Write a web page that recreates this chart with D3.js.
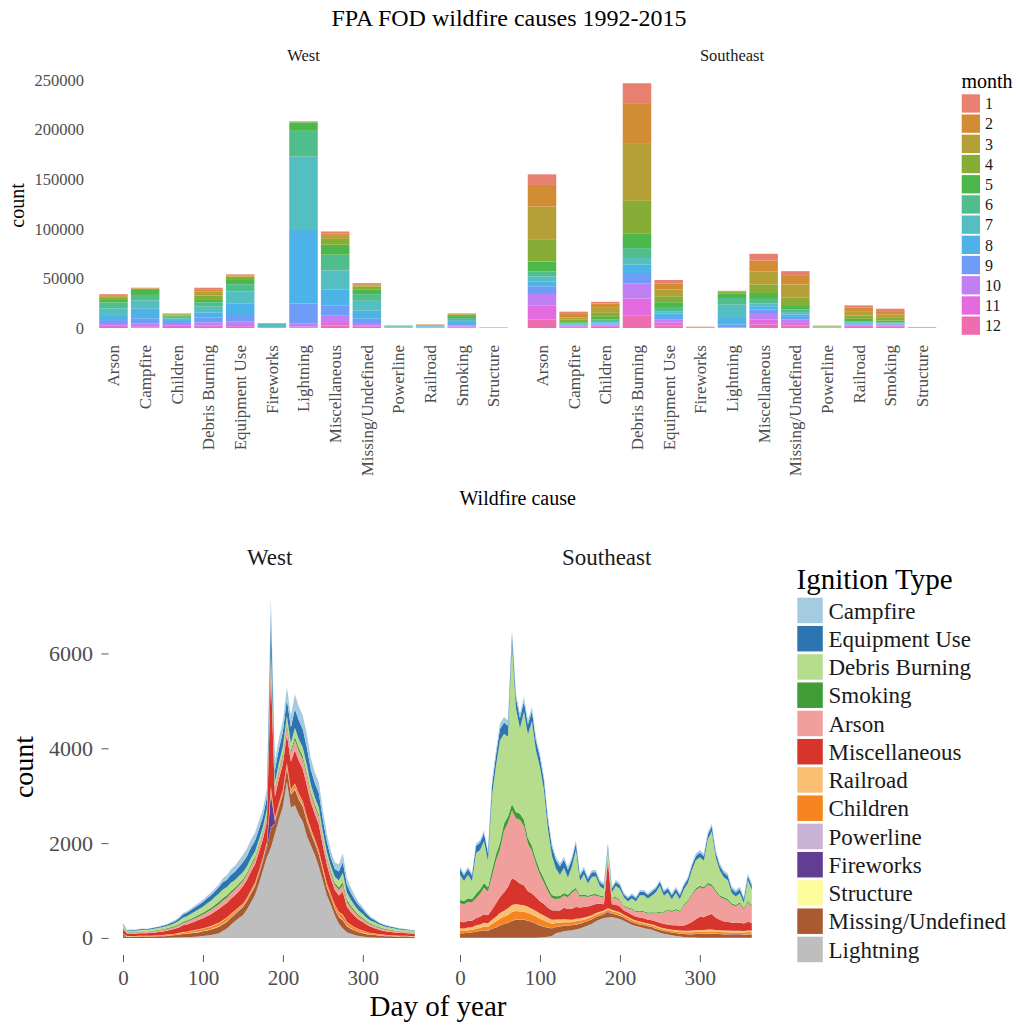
<!DOCTYPE html>
<html>
<head>
<meta charset="utf-8">
<script src="https://cdn.jsdelivr.net/npm/d3@7"></script>
<style>
  body { margin: 0; background: #fff; }
  svg { display: block; font-family: "Liberation Serif", "Times New Roman", serif; }
</style>
</head>
<body>
<svg id="chart" width="1019" height="1027"></svg>
<script>
// ---------- Top chart: yearly counts by cause, stacked by month ----------
const causes = ["Arson", "Campfire", "Children", "Debris Burning", "Equipment Use", "Fireworks",
  "Lightning", "Miscellaneous", "Missing/Undefined", "Powerline", "Railroad", "Smoking", "Structure"];
const months = [1, 2, 3, 4, 5, 6, 7, 8, 9, 10, 11, 12];
const monthColors = ["#e8806f", "#d28c34", "#b4a036", "#88ad37", "#4cb84c", "#50bd8c",
  "#55bec3", "#4cb2e8", "#6d9df7", "#c07ff2", "#e46ae0", "#ee6cb0"];
const countTicks = [0, 50000, 100000, 150000, 200000, 250000];

// one row per cause (same order as `causes`), twelve monthly counts each
const westMonthCounts = [
  [1000, 1000, 1000, 2000, 3400, 6000, 6700, 5000, 4000, 1800, 1200, 1000],
  [400, 400, 500, 1000, 5000, 5700, 8200, 9600, 5000, 3000, 1200, 600],
  [300, 300, 500, 1200, 1100, 1600, 1800, 2000, 2000, 1800, 1200, 1000],
  [1500, 2500, 4000, 3500, 3200, 4400, 5700, 5400, 4700, 3000, 1600, 1100],
  [600, 700, 1100, 2500, 5200, 7400, 11800, 11800, 6700, 3400, 1800, 1200],
  [200, 20, 20, 30, 60, 600, 3800, 150, 40, 30, 20, 30],
  [100, 100, 300, 800, 8400, 26000, 74000, 74000, 20000, 3500, 1000, 300],
  [2000, 2400, 3000, 6000, 10000, 15800, 19500, 15800, 10400, 6400, 3500, 2500],
  [1000, 1100, 1300, 2800, 4900, 6700, 10000, 8000, 4400, 2200, 1500, 1300],
  [100, 100, 120, 180, 250, 350, 450, 450, 300, 200, 120, 80],
  [200, 200, 250, 300, 350, 350, 400, 450, 400, 350, 250, 200],
  [500, 500, 700, 1100, 2000, 2000, 2000, 2000, 1400, 1200, 800, 600],
  [40, 40, 50, 50, 60, 70, 90, 90, 70, 60, 40, 40]
];
const southeastMonthCounts = [
  [10700, 21800, 32900, 22500, 10000, 5000, 5000, 5000, 7700, 11800, 14100, 8400],
  [1500, 4200, 2500, 2200, 900, 600, 500, 800, 900, 800, 800, 800],
  [1700, 4400, 4400, 4700, 2700, 1400, 1300, 1200, 1200, 1100, 1100, 1200],
  [20800, 40300, 57400, 33300, 14400, 10000, 6700, 9400, 9700, 15100, 16800, 12800],
  [3700, 6000, 6700, 6000, 5700, 3400, 2400, 3400, 2700, 2700, 3000, 2700],
  [300, 30, 40, 30, 40, 100, 500, 30, 20, 30, 30, 200],
  [100, 200, 300, 2000, 4700, 6700, 13400, 6700, 2400, 500, 300, 200],
  [6700, 11000, 13400, 8400, 6000, 4700, 2700, 3400, 3400, 6700, 5000, 3400],
  [4000, 9400, 13400, 7400, 4400, 2700, 2400, 2400, 2700, 3400, 2700, 2400],
  [150, 200, 250, 250, 200, 200, 250, 250, 200, 150, 150, 150],
  [2400, 3400, 4400, 3400, 2400, 900, 800, 800, 900, 1100, 1100, 1200],
  [2400, 3400, 3400, 2700, 1700, 600, 600, 600, 600, 1000, 1000, 1400],
  [100, 80, 100, 80, 80, 80, 90, 90, 80, 80, 80, 90]
];

// ---------- Bottom chart: daily counts by ignition type ----------
const ignitionTypes = ["Campfire", "Equipment Use", "Debris Burning", "Smoking", "Arson", "Miscellaneous",
  "Railroad", "Children", "Powerline", "Fireworks", "Structure", "Missing/Undefined", "Lightning"];
const ignitionColors = ["#a6cbe1", "#2c75b1", "#b6dc8e", "#3f9c36", "#f19f9c", "#d7352b",
  "#f9bf72", "#f6851f", "#c8b3d5", "#623d94", "#fdfd9e", "#a95a30", "#bebebe"];
const dayTicks = [0, 100, 200, 300];
const dailyTicks = [0, 2000, 4000, 6000];

const sampleDays = [0, 5, 10, 15, 20, 25, 30, 35, 40, 45, 50, 55, 60, 65, 70, 75, 80, 85, 90, 95,
  100, 105, 110, 115, 120, 125, 130, 135, 140, 145, 150, 155, 160, 165, 170, 175, 180, 185, 190, 195,
  200, 205, 210, 215, 220, 225, 230, 235, 240, 245, 250, 255, 260, 265, 270, 275, 280, 285, 290, 295,
  300, 305, 310, 315, 320, 325, 330, 335, 340, 345, 350, 355, 360, 365];

// West
const westLightning = [0,0,0,0,0,0,0,0,0,0, 0,5,5,10,10,15,15,20,25,30, 40,50,60,80,100,150,200,280,350,420,
  480,600,750,900,1150,1430,1700,1900,2200,2500, 2770,3300,2750,2800,2600,2450,2150,1950,1750,1500,
  1200,900,700,480,300,200,120,90,60,40, 30,20,10,10,5,5,0,0,0,0, 0,0,0,0];
const westMissing = [40,22,23,23,25,26,25,28,30,33, 35,38,44,48,56,66,71,78,85,92, 99,108,116,125,134,139,143,148,150,156,
  172,175,182,182,182,178,196,420,210,238, 255,280,273,329,322,315,302,259,245,252,
  210,170,135,123,138,166,124,106,92,79, 70,59,52,51,44,38,35,33,30,27, 26,25,22,21];
const westStructure = [2,1,1,1,1,1,1,1,1,1, 1,1,1,1,1,2,2,2,2,2, 2,2,3,3,3,3,3,3,3,4,
  4,4,4,4,4,4,4,10,5,5, 5,6,6,6,6,6,6,5,5,5, 4,4,3,3,3,4,3,3,2,2, 2,2,1,1,1,1,1,1,1,1, 1,1,1,1];
const westFireworks = [28,3,2,1,1,1,1,1,1,1, 1,1,1,1,1,1,1,1,1,1, 1,1,1,1,1,2,2,2,3,3,
  4,5,8,12,18,30,60,700,45,20, 12,10,8,6,5,5,4,4,3,3, 3,2,2,2,2,2,2,1,1,1, 1,1,1,1,1,1,1,1,1,1, 2,2,3,4];
const westPowerline = [3,2,2,2,2,2,2,2,2,3, 3,3,3,4,4,5,5,6,7,7, 8,8,9,10,10,11,11,11,12,12,
  12,13,13,13,13,13,14,25,15,17, 18,20,20,24,23,23,22,19,18,18, 15,13,12,11,13,15,11,10,8,7,
  6,5,5,4,3,3,3,3,2,2, 2,2,2,2];
const westChildren = [12,9,9,9,10,10,10,11,12,13, 14,15,18,20,24,28,30,33,36,39, 42,46,49,53,57,59,55,50,46,42,
  37,38,39,39,39,38,42,110,45,51, 55,60,59,71,69,68,65,56,53,54, 50,58,62,67,75,91,68,58,50,43,
  38,32,28,20,17,15,14,13,12,11, 10,10,9,8];
const westRailroad = [5,4,5,4,5,5,5,5,6,6, 7,7,6,6,6,8,8,9,10,11, 11,12,13,14,15,16,16,16,15,13,
  11,10,10,10,10,10,11,25,12,14, 15,16,16,19,18,18,17,15,14,14, 12,11,12,13,15,18,14,12,10,9,
  8,7,7,7,7,7,7,6,6,5, 5,5,4,4];
const westMisc = [100,48,50,49,53,56,55,60,64,70, 76,83,94,104,120,141,153,168,183,199,
  213,232,249,269,288,300,308,319,322,336, 369,375,390,390,390,381,420,2400,450,510,
  546,600,585,705,690,675,648,555,525,540, 450,390,322,314,350,480,316,269,235,202,
  179,151,132,109,94,83,76,70,64,59, 56,53,48,45];
const westArson = [35,20,22,21,23,24,23,26,28,30, 32,35,34,37,43,51,55,60,66,71, 76,83,89,96,103,107,110,114,115,120,
  111,113,117,117,117,114,126,320,135,153, 164,180,176,212,207,203,194,167,158,162,
  135,117,104,101,113,136,102,86,76,65, 58,49,42,47,40,35,32,30,28,25, 24,23,20,19];
const westSmoking = [10,9,9,9,10,10,10,11,12,13, 14,15,17,19,22,25,27,30,33,36, 38,42,45,48,52,54,50,48,44,42,
  37,38,39,39,39,38,42,60,45,51, 55,60,59,71,69,68,65,56,53,54, 45,42,52,50,56,68,51,43,38,32,
  29,24,21,20,17,15,14,13,12,11, 10,10,9,8];
const westDebris = [45,31,32,32,34,36,35,39,41,45, 49,53,57,63,73,86,93,102,111,121,
  129,141,151,163,175,182,176,171,161,156, 148,138,130,117,110,102,112,160,120,136,
  146,160,156,188,184,180,173,148,140,144, 120,104,115,123,150,196,147,125,109,94,
  83,70,61,59,57,53,49,45,41,38, 36,34,31,29];
const westEquipment = [20,15,16,16,17,18,18,19,21,23, 24,27,34,41,52,66,71,78,85,92,
  99,108,116,125,134,150,154,171,173,192, 209,213,221,221,221,216,238,720,255,289,
  309,340,332,400,391,383,367,315,298,306, 255,221,173,168,188,227,170,144,126,108,
  96,81,61,43,34,27,24,23,21,19, 18,17,15,14];
const westCampfire = [10,7,7,7,8,8,8,9,9,10, 11,12,20,22,26,30,33,36,39,43,
  46,50,53,58,62,86,99,114,127,144, 160,163,169,169,169,165,182,340,195,221,
  237,260,254,306,299,293,281,241,228,234, 195,169,138,134,150,181,136,115,84,65,
  51,38,28,20,13,12,11,10,9,8, 8,8,7,6];

// Southeast
const seLightning = [2,2,2,2,2,2,2,2,2,2, 2,2,2,2,2,2,2,2,2,5, 10,15,25,40,100,120,140,150,160,180,
  200,230,260,300,350,390,420,430,440,420, 400,360,320,280,250,230,210,190,170,140,
  110,90,70,55,40,30,20,15,10,8, 5,5,5,5,5,5,5,5,5,5, 5,5,5,5];
const seMissing = [90,95,105,110,130,140,160,150,190,220, 260,290,320,360,380,380,380,360,330,290,
  250,220,190,160,130,120,115,110,105,105, 100,100,95,95,90,85,80,80,75,75,
  70,65,60,55,55,55,55,55,55,55, 55,55,58,58,60,60,62,65,70,75,
  80,80,85,85,80,78,75,75,72,72, 72,70,75,75];
const seStructure = [1,1,1,1,1,1,1,1,1,1, 1,1,1,1,1,1,1,1,1,1, 1,1,1,1,1,1,1,1,1,1,
  2,2,2,2,2,2,2,2,2,2, 2,2,2,2,2,2,2,2,2,2, 2,1,1,1,1,1,1,1,1,1, 1,1,1,1,1,1,1,1,1,1, 1,1,1,1];
const seFireworks = [6,2,1,1,1,1,1,1,1,1, 1,1,1,1,1,1,1,1,1,1, 1,1,1,1,1,1,1,1,1,1,
  1,1,1,1,1,1,2,35,3,1, 1,1,1,1,1,1,1,1,1,1, 1,1,1,1,1,1,1,1,1,1, 1,1,1,1,1,1,1,1,1,1, 1,1,4,3];
const sePowerline = [3,1,1,1,1,1,1,1,2,2, 2,2,2,3,3,3,3,3,3,3, 3,3,3,3,3,3,3,3,3,3,
  3,3,3,3,3,3,5,3,4,3, 3,3,3,3,3,3,3,3,3,3, 3,3,3,3,3,3,3,3,3,3, 3,3,3,3,3,3,3,3,3,3, 3,3,3,3];
const seChildren = [45,45,50,50,60,65,75,75,100,120, 140,150,160,180,180,170,165,160,155,150,
  140,130,110,95,80,75,70,65,60,60, 55,50,50,45,45,40,40,45,40,40,
  40,35,35,35,32,32,32,30,30,30, 30,30,30,30,32,32,33,35,36,38,
  40,40,42,42,40,38,36,36,35,35, 35,34,36,35];
const seRailroad = [55,55,60,60,70,75,80,80,90,100, 120,130,140,150,150,145,140,130,125,120,
  110,105,95,85,75,70,65,60,55,55, 50,45,40,35,35,30,30,30,28,28,
  28,25,25,25,25,25,25,25,25,25, 25,25,26,26,28,28,30,32,34,36,
  38,38,40,40,38,36,35,35,34,34, 34,33,35,34];
const seMisc = [140,130,140,135,150,160,180,170,210,280, 340,380,450,560,500,440,420,330,320,290,
  260,240,210,200,190,190,240,220,230,250, 230,220,210,210,190,170,130,1000,120,130,
  120,90,90,90,80,85,85,80,85,90, 95,90,95,95,100,100,110,140,180,230,
  280,270,300,330,260,220,190,185,170,165, 170,155,180,160];
const seArson = [390,380,400,390,420,480,560,500,700,900, 1000,1300,1350,1430,1300,1350,1250,1000,900,700,
  560,450,350,250,240,250,260,250,340,360, 230,230,200,200,180,150,140,100,120,140,
  120,80,90,110,100,120,130,130,150,170, 210,240,300,280,320,300,420,480,560,620,
  620,600,650,580,540,480,480,450,380,350, 400,300,420,340];
const seSmoking = [70,70,75,70,95,95,100,90,130,140, 150,150,140,140,140,130,130,120,110,100,
  95,90,80,70,60,55,55,50,45,45, 35,35,30,30,30,25,25,25,22,22,
  22,20,20,20,20,20,20,20,20,22, 22,22,22,22,24,24,26,28,32,34,
  35,35,38,38,36,34,32,32,30,30, 30,28,32,30];
const seDebris = [530,420,500,380,860,830,880,560,1570,1860, 2150,1900,1680,3360,2180,1800,2280,2185,2625,2295,
  2180,1865,1225,830,585,450,530,365,505,795, 295,425,255,370,370,195,157,130,112,240,
  225,175,125,215,198,328,338,295,355,428, 548,333,351,246,346,236,314,355,503,590,
  597,557,917,1127,688,524,422,393,209,176, 191,107,429,327];
const seEquipment = [120,115,120,115,150,160,170,160,220,230, 240,240,230,220,220,215,215,210,210,205,
  200,200,195,185,180,175,170,165,150,150, 110,110,100,95,90,85,80,80,75,80,
  80,60,65,70,70,75,75,75,80,80, 85,85,85,85,85,85,88,90,90,92,
  95,95,100,100,100,95,95,92,90,88, 88,85,90,88];
const seCampfire = [50,47,47,47,52,52,62,62,87,107, 116,116,116,95,95,95,95,90,90,85,
  80,80,75,70,65,60,60,60,55,55, 50,50,45,45,45,45,45,40,40,40,
  40,35,35,35,35,35,35,35,35,35, 35,35,38,38,40,40,42,45,50,52,
  55,55,58,58,58,55,55,52,50,50, 50,48,50,50];

const westSeries = {
  "Lightning": westLightning, "Missing/Undefined": westMissing, "Structure": westStructure,
  "Fireworks": westFireworks, "Powerline": westPowerline, "Children": westChildren,
  "Railroad": westRailroad, "Miscellaneous": westMisc, "Arson": westArson, "Smoking": westSmoking,
  "Debris Burning": westDebris, "Equipment Use": westEquipment, "Campfire": westCampfire
};
const seSeries = {
  "Lightning": seLightning, "Missing/Undefined": seMissing, "Structure": seStructure,
  "Fireworks": seFireworks, "Powerline": sePowerline, "Children": seChildren,
  "Railroad": seRailroad, "Miscellaneous": seMisc, "Arson": seArson, "Smoking": seSmoking,
  "Debris Burning": seDebris, "Equipment Use": seEquipment, "Campfire": seCampfire
};

// ---------- drawing ----------
const svg = d3.select("#chart");
const serif = "Liberation Serif, Times New Roman, serif";
const tickGray = "#4d4d4d";
const monthColor = d3.scaleOrdinal().domain(months).range(monthColors);
const ignitionColor = d3.scaleOrdinal().domain(ignitionTypes).range(ignitionColors);

// Title
svg.append("text").attr("x", 509).attr("y", 26).attr("text-anchor", "middle")
  .attr("font-size", 24).attr("fill", "#000").text("FPA FOD wildfire causes 1992-2015");

// Top panels
const yTop = d3.scaleLinear().domain([0, 250000]).range([328, 80]);
const topPanels = [
  { name: "West", counts: westMonthCounts, range: [94.5, 512.5] },
  { name: "Southeast", counts: southeastMonthCounts, range: [523, 941] }
];
const monthKeys = months.slice().reverse().map(m => "m" + m);

topPanels.forEach(p => {
  const x = d3.scaleBand().domain(causes).range(p.range).paddingInner(0.1).paddingOuter(0.15);
  const rows = causes.map((c, i) => {
    const r = { cause: c };
    months.forEach((m, j) => { r["m" + m] = p.counts[i][j]; });
    return r;
  });
  const series = d3.stack().keys(monthKeys)(rows);
  const g = svg.append("g");
  g.selectAll("g.layer").data(series).join("g")
    .attr("fill", d => monthColor(+d.key.slice(1)))
    .selectAll("rect").data(d => d).join("rect")
    .attr("x", d => x(d.data.cause))
    .attr("width", x.bandwidth())
    .attr("y", d => yTop(d[1]))
    .attr("height", d => yTop(d[0]) - yTop(d[1]));

  // strip label
  svg.append("text").attr("x", (p.range[0] + p.range[1]) / 2).attr("y", 61)
    .attr("text-anchor", "middle").attr("font-size", 16.5).attr("fill", "#1a1a1a").text(p.name);

  // category axis
  const ax = svg.append("g").attr("transform", "translate(0,340)")
    .call(d3.axisBottom(x).tickSize(0).tickPadding(0));
  ax.select(".domain").remove();
  ax.selectAll("text")
    .attr("transform", "rotate(-90)")
    .attr("text-anchor", "end")
    .attr("x", -5).attr("y", 0).attr("dy", "0.35em")
    .attr("font-family", serif)
    .attr("font-size", 17).attr("fill", tickGray);
});

// top y axis
const yAxTop = svg.append("g").attr("transform", "translate(94.5,0)")
  .call(d3.axisLeft(yTop).tickValues(countTicks).tickFormat(d3.format("d")).tickSize(0).tickPadding(10.5));
yAxTop.select(".domain").remove();
yAxTop.selectAll("text").attr("font-family", serif).attr("font-size", 16.5).attr("fill", tickGray);

svg.append("text").attr("transform", "translate(24,205.5) rotate(-90)").attr("text-anchor", "middle")
  .attr("font-size", 20).attr("fill", "#000").text("count");
svg.append("text").attr("x", 517.7).attr("y", 505).attr("text-anchor", "middle")
  .attr("font-size", 20).attr("fill", "#000").text("Wildfire cause");

// month legend
svg.append("text").attr("x", 961.5).attr("y", 88).attr("font-size", 20).attr("fill", "#000").text("month");
const ml = svg.append("g");
months.forEach((m, i) => {
  ml.append("rect").attr("x", 961.7).attr("y", 94.3 + i * 20.2).attr("width", 18.3).attr("height", 18.3)
    .attr("fill", monthColor(m));
  ml.append("text").attr("x", 985).attr("y", 94.3 + i * 20.2 + 9.2).attr("dy", "0.35em")
    .attr("font-size", 16).attr("fill", "#1a1a1a").text(m);
});

// Bottom panels
const yB = d3.scaleLinear().domain([-360, 7550]).range([955, 580]);
const stackOrder = ignitionTypes.slice().reverse(); // Lightning at the bottom
const bottomPanels = [
  { name: "West", data: westSeries, range: [109.2, 430.2] },
  { name: "Southeast", data: seSeries, range: [446.2, 767.2] }
];
bottomPanels.forEach(p => {
  const x = d3.scaleLinear().domain([-17.25, 384.25]).range(p.range);
  const rows = sampleDays.map((d, i) => {
    const r = { day: d };
    stackOrder.forEach(k => { r[k] = p.data[k][i]; });
    return r;
  });
  const series = d3.stack().keys(stackOrder)(rows);
  const area = d3.area().x(d => x(d.data.day)).y0(d => yB(d[0])).y1(d => yB(d[1]));
  svg.append("g").selectAll("path").data(series).join("path")
    .attr("fill", d => ignitionColor(d.key)).attr("d", area);

  svg.append("text").attr("x", (p.range[0] + p.range[1]) / 2).attr("y", 565)
    .attr("text-anchor", "middle").attr("font-size", 23).attr("fill", "#1a1a1a").text(p.name);

  const ax = svg.append("g").attr("transform", "translate(0,955)")
    .call(d3.axisBottom(x).tickValues(dayTicks).tickFormat(d3.format("d")).tickSize(7).tickPadding(8));
  ax.select(".domain").remove();
  ax.selectAll("line").attr("stroke", "#555");
  ax.selectAll("text").attr("font-family", serif).attr("font-size", 21).attr("fill", tickGray);
});

const yAxB = svg.append("g").attr("transform", "translate(108.5,0)")
  .call(d3.axisLeft(yB).tickValues(dailyTicks).tickFormat(d3.format("d")).tickSize(7).tickPadding(8.5));
yAxB.select(".domain").remove();
yAxB.selectAll("line").attr("stroke", "#555");
yAxB.selectAll("text").attr("font-family", serif).attr("font-size", 22).attr("fill", tickGray);

svg.append("text").attr("transform", "translate(33,767) rotate(-90)").attr("text-anchor", "middle")
  .attr("font-size", 28).attr("fill", "#000").text("count");
svg.append("text").attr("x", 438).attr("y", 1016).attr("text-anchor", "middle")
  .attr("font-size", 29).attr("fill", "#000").text("Day of year");

// ignition legend
svg.append("text").attr("x", 796.5).attr("y", 589).attr("font-size", 29).attr("fill", "#000").text("Ignition Type");
const il = svg.append("g");
ignitionTypes.forEach((t, i) => {
  const y0 = 597.7 + i * 28.25;
  il.append("rect").attr("x", 797.3).attr("y", y0).attr("width", 25.5).attr("height", 25.5)
    .attr("fill", ignitionColor(t));
  il.append("text").attr("x", 828.5).attr("y", y0 + 12.75).attr("dy", "0.35em")
    .attr("font-size", 23).attr("fill", "#1a1a1a").text(t);
});
</script>
</body>
</html>
